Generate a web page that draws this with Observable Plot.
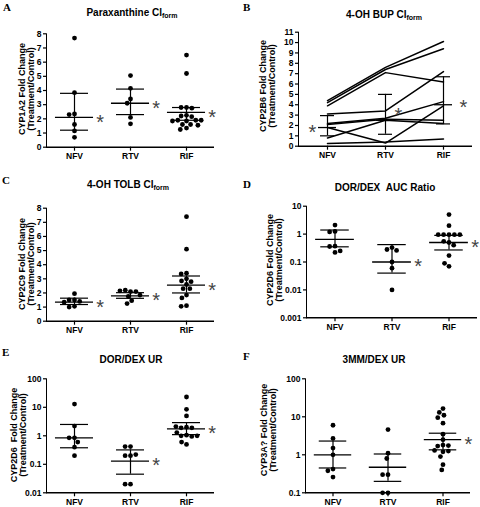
<!DOCTYPE html>
<html><head><meta charset="utf-8">
<script src="https://cdn.jsdelivr.net/npm/d3@7"></script>
<script src="https://cdn.jsdelivr.net/npm/@observablehq/plot@0.6"></script>
<style>
body{margin:0;background:#fff}
#fig{position:relative;width:480px;height:507px;overflow:hidden;background:#fff;font-family:"Liberation Sans",Arial,sans-serif;color:#000}
.pl{position:absolute}
.pl .domain{stroke-width:1.5px}
.pl g[aria-label="y-axis line"] line,.pl g[aria-label="y-axis line"] path{stroke-width:1.5px}
.pl g[aria-label="y-axis tick"] path,.pl g[aria-label="fx-axis tick"] path,.pl g[aria-label="x-axis tick"] path{stroke-width:1.2px}
.title{position:absolute;font-weight:bold;font-size:10px;line-height:12px;white-space:nowrap;transform:translateX(-50%)}
.title sub{font-size:7px;vertical-align:-2px;line-height:0}
.letter{position:absolute;font-family:"Liberation Serif","Times New Roman",serif;font-weight:bold;font-size:11px;line-height:12px}
.ylab{position:absolute;width:150px;height:18px;font-weight:bold;font-size:9px;line-height:9px;text-align:center;white-space:nowrap;transform:rotate(-90deg)}
</style>
</head><body><div id="fig"></div>
<script>
const groups = ["NFV", "RTV", "RIF"];

// Panel A: Paraxanthine CLform (CYP1A2)
const aNFV = [7.7, 3.85, 2.35, 2.3, 1.6, 1.15, 0.7];
const aRTV = [5.05, 4.15, 3.4, 3.1, 2.1, 1.65];
const aRIF = [6.5, 5.2, 2.8, 2.8, 2.75, 2.25, 2.2, 2.15, 1.9, 1.9, 1.85, 1.85, 1.9, 1.6, 1.6, 1.55, 1.35, 1.25];
const aMean = [2.1, 3.1, 2.45], aLow = [1.2, 2.3, 1.9], aHigh = [3.8, 4.1, 2.8];
const aStar = [true, true, true];

// Panel B: 4-OH BUP CLform (CYP2B6), one line per subject
const bNFV = [4.4, 4.2, 3.9, 3.1, 2.2, 2.1, 1.8, 0.8, 0.25];
const bRTV = [7.6, 7.4, 7.1, 3.4, 2.7, 2.6, 0.3, 2.5, 0.4];
const bRIF = [10.1, 9.4, 6.2, 7.2, 4.3, 2.5, 3.9, 2.2, 0.7];
const bMean = [1.8, 2.5, 4.0], bLow = [1.0, 1.15, 2.15], bHigh = [2.95, 5.0, 6.7];
const bStarY = [1.8, 3.45, 4.2];

// Panel C: 4-OH TOLB CLform (CYP2C9)
const cNFV = [1.95, 1.5, 1.5, 1.4, 1.35, 1.05, 1.0];
const cRTV = [2.1, 2.2, 2.1, 2.15, 1.85, 1.75, 1.45, 1.25];
const cRIF = [7.4, 5.1, 3.4, 3.35, 3.0, 2.85, 2.8, 2.6, 2.3, 2.3, 1.85, 1.65, 1.1, 1.05];
const cMean = [1.35, 1.8, 2.55], cLow = [1.18, 1.62, 2.0], cHigh = [1.63, 2.02, 3.2];
const cStar = [true, true, true];

// Panel D: DOR/DEX AUC Ratio (CYP2D6)
const dNFV = [2.1, 1.25, 1.2, 0.37, 0.36, 0.22, 0.25];
const dRTV = [0.33, 0.28, 0.26, 0.1, 0.06, 0.01];
const dRIF = [5.0, 2.0, 0.95, 0.95, 0.95, 0.95, 0.95, 0.5, 0.55, 0.4, 0.17, 0.07, 0.09];
const dMean = [0.65, 0.1, 0.5], dLow = [0.35, 0.04, 0.27], dHigh = [1.4, 0.42, 0.9];
const dStar = [false, true, true];

// Panel E: DOR/DEX UR (CYP2D6)
const eNFV = [13, 2.2, 0.85, 0.85, 0.6, 0.4, 0.2];
const eRTV = [0.42, 0.42, 0.2, 0.2, 0.22, 0.02, 0.02];
const eRIF = [23, 8.5, 5, 2.0, 1.9, 1.9, 2.1, 1.05, 1.0, 0.95, 1.0, 1.3, 0.5, 0.6];
const eMean = [0.85, 0.13, 1.75], eLow = [0.38, 0.045, 1.1], eHigh = [2.5, 0.32, 2.9];
const eStar = [false, true, true];

// Panel F: 3MM/DEX UR (CYP3A)
const fNFV = [6, 2.7, 1.5, 1.0, 0.42, 0.38, 0.26];
const fRTV = [4.6, 1.1, 0.8, 0.3, 0.3, 0.1, 0.1];
const fRIF = [16.5, 13, 11, 9.5, 6.8, 3.5, 2.5, 1.8, 1.7, 1.75, 1.2, 1.25, 1.3, 0.9, 0.55, 0.4];
const fMean = [1.0, 0.47, 2.5], fLow = [0.45, 0.2, 1.35], fHigh = [2.3, 1.05, 3.7];
const fStar = [false, false, true];

const fig = document.getElementById("fig");
const baseStyle = {fontFamily: "'Liberation Sans', Arial, sans-serif", fontSize: "8.5px", fontWeight: "bold", background: "transparent", color: "black", overflow: "visible"};
const fmt = d3.format("~g");
const starStyle = {fontSize: 20, fontWeight: "normal", fill: "#444", dy: 5};

function place(svg, left, top) {
  svg.classList.add("pl");
  svg.style.left = left + "px";
  svg.style.top = top + "px";
  fig.appendChild(svg);
}
function addTitle(html, cx, top) {
  const d = document.createElement("div");
  d.className = "title"; d.innerHTML = html;
  d.style.left = cx + "px"; d.style.top = top + "px";
  fig.appendChild(d);
}
function addLetter(t, x, y) {
  const d = document.createElement("div");
  d.className = "letter"; d.textContent = t;
  d.style.left = x + "px"; d.style.top = y + "px";
  fig.appendChild(d);
}
function addYLabel(lines, cx, cy) {
  const d = document.createElement("div");
  d.className = "ylab"; d.innerHTML = lines.join("<br>");
  d.style.left = (cx - 75) + "px"; d.style.top = (cy - 9) + "px";
  fig.appendChild(d);
}

function dotPanel(p) {
  const rows = [];
  groups.forEach((g, i) => {
    p.values[i].forEach(v => rows.push({kind: "pt", g, v}));
    rows.push({kind: "st", g, m: p.mean[i], lo: p.low[i], hi: p.high[i], star: p.star[i]});
  });
  const isPt = d => d.kind === "pt";
  const isSt = d => d.kind === "st";
  const svg = Plot.plot({
    width: p.w, height: p.h,
    marginLeft: p.mL, marginRight: p.mR, marginTop: p.mT, marginBottom: p.mB,
    style: baseStyle,
    facet: {data: rows, x: "g", marginTop: 0, marginBottom: 0, marginLeft: 0, marginRight: 0},
    fx: {domain: groups, padding: 0, axis: "bottom", tickSize: 4, tickPadding: 2, label: null},
    x: {domain: [-1, 1], axis: null},
    y: {type: p.yType, domain: p.yDomain, ticks: p.yTicks, tickFormat: fmt, tickSize: 3, tickPadding: 2, label: null, line: true},
    marks: [
      Plot.ruleY([p.yDomain[0]], {stroke: "black", strokeWidth: 1.6}),
      Plot.ruleX(rows, {filter: isSt, x: 0, y1: "lo", y2: "hi", stroke: "black", strokeWidth: 1.2}),
      Plot.ruleY(rows, {filter: isSt, y: "m", x1: -0.68, x2: 0.68, stroke: "black", strokeWidth: 1.3}),
      Plot.ruleY(rows, {filter: isSt, y: "lo", x1: -0.5, x2: 0.5, stroke: "black", strokeWidth: 1.2}),
      Plot.ruleY(rows, {filter: isSt, y: "hi", x1: -0.5, x2: 0.5, stroke: "black", strokeWidth: 1.2}),
      Plot.dot(rows, Plot.dodgeX({anchor: "middle", padding: 0.6}, {filter: isPt, y: "v", r: 2.4, fill: "black", stroke: "none"})),
      Plot.text(rows, {filter: d => isSt(d) && d.star, x: 0.92, y: "m", text: () => "*", ...starStyle})
    ]
  });
  place(svg, p.left, p.top);
}

// Panel A
dotPanel({values: [aNFV, aRTV, aRIF], mean: aMean, low: aLow, high: aHigh, star: aStar,
  yType: "linear", yDomain: [0, 8], yTicks: d3.range(0, 9),
  left: 0, top: 0, w: 240, h: 170, mL: 46, mR: 26, mT: 33.3, mB: 23.3});
// Panel C
dotPanel({values: [cNFV, cRTV, cRIF], mean: cMean, low: cLow, high: cHigh, star: cStar,
  yType: "linear", yDomain: [0, 8], yTicks: d3.range(0, 9),
  left: 0, top: 170, w: 240, h: 170, mL: 45, mR: 26, mT: 37.7, mB: 19.3});
// Panel D
dotPanel({values: [dNFV, dRTV, dRIF], mean: dMean, low: dLow, high: dHigh, star: dStar,
  yType: "log", yDomain: [0.001, 10], yTicks: [0.001, 0.01, 0.1, 1, 10],
  left: 240, top: 170, w: 240, h: 170, mL: 65, mR: 3, mT: 35.7, mB: 22.7});
// Panel E
dotPanel({values: [eNFV, eRTV, eRIF], mean: eMean, low: eLow, high: eHigh, star: eStar,
  yType: "log", yDomain: [0.01, 100], yTicks: [0.01, 0.1, 1, 10, 100],
  left: 0, top: 340, w: 240, h: 167, mL: 46, mR: 26, mT: 38.3, mB: 14.7});
// Panel F
dotPanel({values: [fNFV, fRTV, fRIF], mean: fMean, low: fLow, high: fHigh, star: fStar,
  yType: "log", yDomain: [0.1, 100], yTicks: [0.1, 1, 10, 100],
  left: 240, top: 340, w: 240, h: 167, mL: 65, mR: 10, mT: 38.3, mB: 14.7});

// Panel B (paired lines)
const bRows = [];
bNFV.forEach((_, i) => {
  bRows.push({id: i, g: "NFV", v: bNFV[i]}, {id: i, g: "RTV", v: bRTV[i]}, {id: i, g: "RIF", v: bRIF[i]});
});
const bStats = groups.map((g, i) => ({g, m: bMean[i], lo: bLow[i], hi: bHigh[i], sy: bStarY[i]}));
const starMark = (i, dx) => Plot.text(bStats.filter((d, j) => j === i), {x: "g", y: "sy", text: () => "*", dx, ...starStyle});
const svgB = Plot.plot({
  width: 240, height: 170, marginLeft: 58, marginRight: 8, marginTop: 31.7, marginBottom: 24.3,
  style: baseStyle,
  x: {type: "point", domain: groups, padding: 0.5, tickSize: 4, tickPadding: 2, label: null},
  y: {domain: [0, 11], ticks: d3.range(0, 12), tickFormat: fmt, tickSize: 3, tickPadding: 2, label: null, line: true},
  marks: [
    Plot.ruleY([0], {stroke: "black", strokeWidth: 1.6}),
    Plot.line(bRows, {x: "g", y: "v", z: "id", stroke: "black", strokeWidth: 1.5}),
    Plot.ruleX(bStats, {x: "g", y1: "lo", y2: "hi", stroke: "black", strokeWidth: 1.2}),
    Plot.ruleY(bStats, {x1: "g", x2: "g", y: "m", insetLeft: -9, insetRight: -9, stroke: "black", strokeWidth: 1.3}),
    Plot.ruleY(bStats, {x1: "g", x2: "g", y: "lo", insetLeft: -7, insetRight: -7, stroke: "black", strokeWidth: 1.2}),
    Plot.ruleY(bStats, {x1: "g", x2: "g", y: "hi", insetLeft: -7, insetRight: -7, stroke: "black", strokeWidth: 1.2}),
    starMark(0, -15), starMark(1, 13), starMark(2, 20)
  ]
});
place(svgB, 240, 0);

// Titles, letters, axis labels
addTitle("Paraxanthine Cl<sub>form</sub>", 132, 7);
addTitle("4-OH BUP Cl<sub>form</sub>", 384, 9);
addTitle("4-OH TOLB Cl<sub>form</sub>", 128, 179);
addTitle("DOR/DEX&nbsp;&nbsp;AUC Ratio", 385, 182);
addTitle("DOR/DEX UR", 131, 354);
addTitle("3MM/DEX UR", 374, 354);

addLetter("A", 3, 1); addLetter("B", 243, 1);
addLetter("C", 2, 174); addLetter("D", 243, 178);
addLetter("E", 2, 346); addLetter("F", 243, 350);

addYLabel(["CYP1A2 Fold Change", "(Treatment/Control)"], 26.5, 89);
addYLabel(["CYP2B6 Fold Change", "(Treatment/Control)"], 268, 86);
addYLabel(["CYP2C9 Fold Change", "(Treatment/Control)"], 27, 264);
addYLabel(["CYP2D6 Fold Change", "(Treatment/Control)"], 275, 260);
addYLabel(["CYP2D6&nbsp;&nbsp;Fold Change", "(Treatment/Control)"], 18.5, 435);
addYLabel(["CYP3A? Fold Change", "(Treatment/Control)"], 268.5, 430);
</script>
</body></html>
